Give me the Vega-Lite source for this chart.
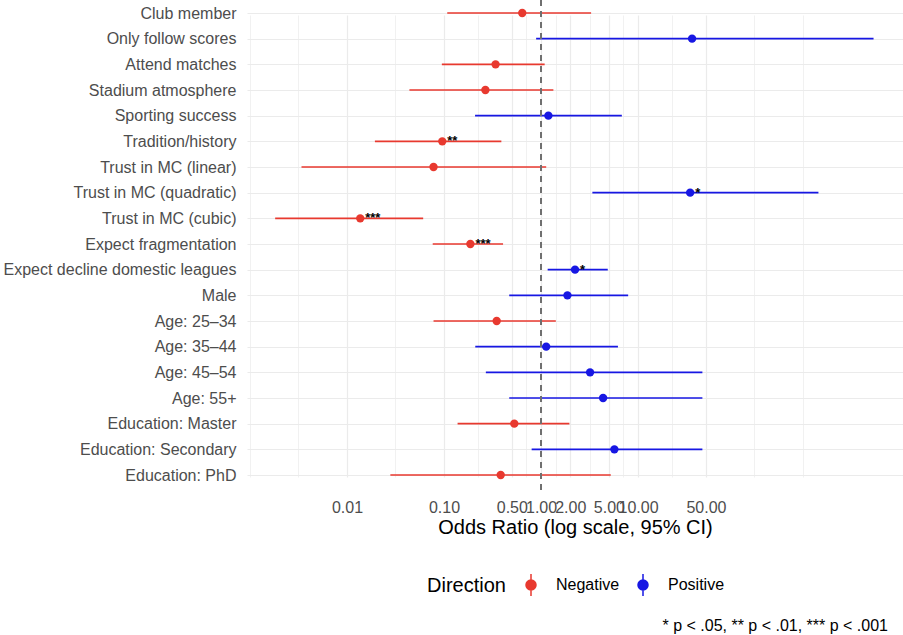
{
  "$schema": "https://vega.github.io/schema/vega-lite/v6.json",
  "width": 656,
  "height": 490,
  "autosize": {"type": "none"},
  "padding": {"left": 247, "top": 0, "right": 0, "bottom": 145},
  "background": "white",
  "title": {
    "text": "* p < .05, ** p < .01, *** p < .001",
    "orient": "bottom",
    "anchor": "end",
    "frame": "group",
    "fontSize": 16,
    "fontWeight": "normal",
    "font": "Liberation Sans",
    "color": "black",
    "baseline": "top",
    "dx": -15,
    "offset": 19
  },
  "config": {
    "view": {"stroke": null},
    "font": "Liberation Sans"
  },
  "data": {
    "values": [
      {"term": "Club member", "or": 0.64, "lo": 0.108, "hi": 3.28, "dir": "Negative", "sig": ""},
      {"term": "Only follow scores", "or": 36.0, "lo": 0.89, "hi": 2670, "dir": "Positive", "sig": ""},
      {"term": "Attend matches", "or": 0.34, "lo": 0.095, "hi": 1.09, "dir": "Negative", "sig": ""},
      {"term": "Stadium atmosphere", "or": 0.267, "lo": 0.044, "hi": 1.34, "dir": "Negative", "sig": ""},
      {"term": "Sporting success", "or": 1.19, "lo": 0.209, "hi": 6.8, "dir": "Positive", "sig": ""},
      {"term": "Tradition/history", "or": 0.096, "lo": 0.0194, "hi": 0.39, "dir": "Negative", "sig": "**"},
      {"term": "Trust in MC (linear)", "or": 0.078, "lo": 0.0034, "hi": 1.13, "dir": "Negative", "sig": ""},
      {"term": "Trust in MC (quadratic)", "or": 34.4, "lo": 3.38, "hi": 722, "dir": "Positive", "sig": "*"},
      {"term": "Trust in MC (cubic)", "or": 0.0137, "lo": 0.00182, "hi": 0.061, "dir": "Negative", "sig": "***"},
      {"term": "Expect fragmentation", "or": 0.187, "lo": 0.0765, "hi": 0.406, "dir": "Negative", "sig": "***"},
      {"term": "Expect decline domestic leagues", "or": 2.24, "lo": 1.17, "hi": 4.87, "dir": "Positive", "sig": "*"},
      {"term": "Male", "or": 1.87, "lo": 0.47, "hi": 7.9, "dir": "Positive", "sig": ""},
      {"term": "Age: 25–34", "or": 0.349, "lo": 0.078, "hi": 1.42, "dir": "Negative", "sig": ""},
      {"term": "Age: 35–44", "or": 1.13, "lo": 0.21, "hi": 6.2, "dir": "Positive", "sig": ""},
      {"term": "Age: 45–54", "or": 3.2, "lo": 0.27, "hi": 46, "dir": "Positive", "sig": ""},
      {"term": "Age: 55+", "or": 4.36, "lo": 0.47, "hi": 46, "dir": "Positive", "sig": ""},
      {"term": "Education: Master", "or": 0.53, "lo": 0.138, "hi": 1.96, "dir": "Negative", "sig": ""},
      {"term": "Education: Secondary", "or": 5.7, "lo": 0.80, "hi": 46, "dir": "Positive", "sig": ""},
      {"term": "Education: PhD", "or": 0.384, "lo": 0.028, "hi": 5.23, "dir": "Negative", "sig": ""}
    ]
  },
  "encoding": {
    "y": {
      "field": "term",
      "type": "nominal",
      "sort": null,
      "scale": {"type": "point", "range": [13, 475], "padding": 0},
      "axis": {
        "title": null,
        "grid": true,
        "gridColor": "#EBEBEB",
        "gridWidth": 1.2,
        "ticks": false,
        "domain": false,
        "labelFontSize": 16,
        "labelColor": "#4D4D4D",
        "labelPadding": 11,
        "labelLimit": 400
      }
    }
  },
  "layer": [
    {
      "mark": {"type": "rule", "strokeWidth": 1.6},
      "encoding": {
        "x": {
          "field": "lo",
          "type": "quantitative",
          "scale": {"type": "log", "domain": [0.000933, 5370], "nice": false, "zero": false},
          "axis": {
            "values": [0.001, 0.00316, 0.01, 0.0316, 0.1, 0.2236, 0.5, 0.707, 1, 1.414, 2, 3.162, 5, 7.07, 10, 22.36, 50, 158.1, 500],
            "labelExpr": "(datum.value == 0.01 || datum.value == 0.1 || datum.value == 0.5 || datum.value == 1 || datum.value == 2 || datum.value == 5 || datum.value == 10 || datum.value == 50) ? format(datum.value, '.2f') : ''",
            "grid": true,
            "gridColor": "#EBEBEB",
            "gridWidth": {"condition": {"test": "datum.value == 0.01 || datum.value == 0.1 || datum.value == 0.5 || datum.value == 1 || datum.value == 2 || datum.value == 5 || datum.value == 10 || datum.value == 50", "value": 1.2}, "value": 0.7},
            "ticks": false,
            "domain": false,
            "labelOverlap": false,
            "labelFlush": false,
            "labelFontSize": 16,
            "labelColor": "#4D4D4D",
            "labelPadding": 9,
            "title": "Odds Ratio (log scale, 95% CI)",
            "titleFontSize": 20,
            "titleFontWeight": "normal",
            "titleColor": "black",
            "titleY": 27,
            "titleBaseline": "top"
          }
        },
        "x2": {"field": "hi"},
        "color": {
          "field": "dir",
          "type": "nominal",
          "scale": {"domain": ["Negative", "Positive"], "range": ["#E8392F", "#1717E3"]},
          "legend": {
            "title": "Direction",
            "orient": "none",
            "legendX": 180,
            "legendY": 573,
            "direction": "horizontal",
            "titleOrient": "left",
            "titleFontSize": 20,
            "titleFontWeight": "normal",
            "titleColor": "black",
            "titlePadding": 13,
            "titleBaseline": "middle",
            "labelFontSize": 16,
            "labelColor": "black",
            "labelOffset": 13,
            "columnPadding": 11,
            "symbolType": "M-0.4545,0A0.4545,0.4545,0,1,1,0.4545,0A0.4545,0.4545,0,1,1,-0.4545,0ZM0,-1L0,1",
            "symbolSize": 484,
            "symbolStrokeWidth": 1.5,
            "encode": {
              "symbols": {
                "update": {
                  "stroke": {"scale": "color", "field": "value"},
                  "fill": {"scale": "color", "field": "value"},
                  "opacity": {"value": 1}
                }
              }
            }
          }
        }
      }
    },
    {
      "mark": {"type": "rule", "strokeDash": [6, 5], "color": "#707070", "strokeWidth": 1.4},
      "encoding": {
        "x": {"datum": 1, "type": "quantitative"},
        "y": null
      }
    },
    {
      "mark": {"type": "circle", "size": 70, "opacity": 1},
      "encoding": {
        "x": {"field": "or", "type": "quantitative"},
        "color": {"field": "dir", "type": "nominal"}
      }
    },
    {
      "transform": [{"filter": "datum.sig != ''"}],
      "mark": {"type": "text", "align": "left", "baseline": "middle", "dx": 5, "dy": 0, "fontSize": 13, "fontWeight": "bold", "color": "black"},
      "encoding": {
        "x": {"field": "or", "type": "quantitative"},
        "text": {"field": "sig"}
      }
    }
  ]
}
